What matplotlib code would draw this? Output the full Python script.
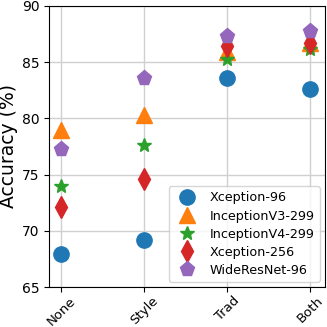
import matplotlib
matplotlib.use("Agg")
import matplotlib.pyplot as plt

categories = ["None", "Style", "Trad", "Both"]
xception96 = [67.9, 69.2, 83.6, 82.6]
inceptionv3 = [79.0, 80.3, 85.9, 86.7]
inceptionv4 = [74.0, 77.6, 85.3, 86.2]
xception256 = [72.1, 74.6, 86.4, 86.7]
wideresnet = [77.3, 83.6, 87.3, 87.8]

series = [
    ("Xception-96", xception96, "o", "#1f77b4"),
    ("InceptionV3-299", inceptionv3, "^", "#ff7f0e"),
    ("InceptionV4-299", inceptionv4, "*", "#2ca02c"),
    ("Xception-256", xception256, "d", "#d62728"),
    ("WideResNet-96", wideresnet, "p", "#9467bd"),
]

fig = plt.figure(figsize=(3.27, 3.27), dpi=100)
ax = fig.add_axes([0.15, 0.122, 0.844, 0.860])
x = list(range(len(categories)))
for name, vals, m, c in series:
    ms = 11 if m != "*" else 10.5
    ax.plot(x, vals, linestyle="none", marker=m, markersize=ms, color=c, label=name, zorder=3)

ax.set_xticks(x)
ax.set_xticklabels(categories, rotation=45, fontsize=9.5)
ax.tick_params(axis="x", pad=1.5)
ax.set_xlim(-0.15, 3.18)
ax.set_ylim(65, 90)
ax.set_yticks([65, 70, 75, 80, 85, 90])
ax.tick_params(axis="y", labelsize=10)
ax.set_ylabel("Accuracy (%)", fontsize=13.5, labelpad=3)
ax.grid(True, color="#d0d0d0", linewidth=1)
ax.set_axisbelow(True)
ax.legend(loc="lower right", fontsize=9.2, handletextpad=0.8, borderpad=0.4,
          labelspacing=0.4, borderaxespad=0.4)
fig.savefig("out.png", dpi=100)
